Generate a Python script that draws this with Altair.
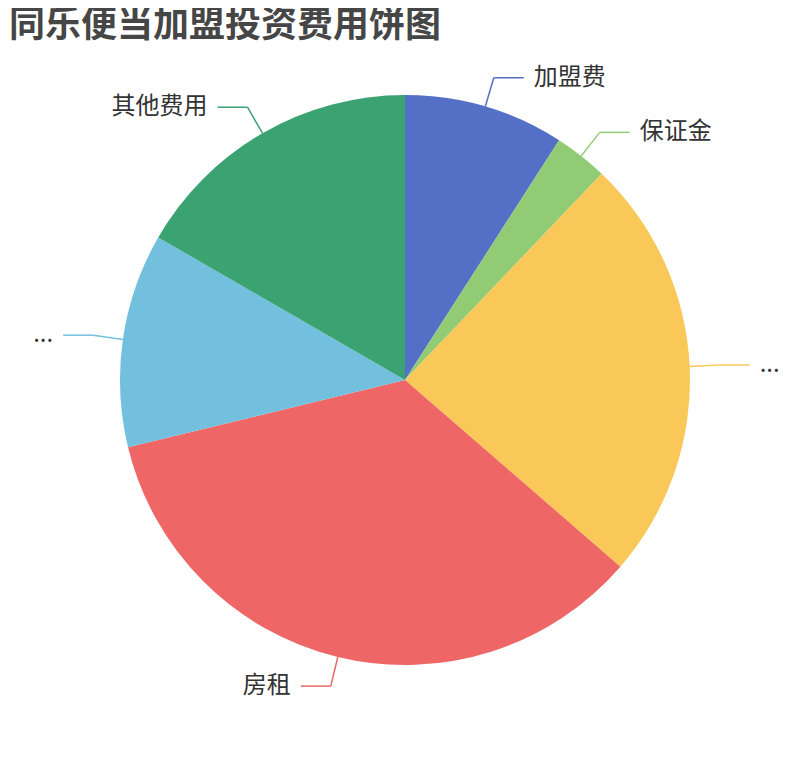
import altair as alt
import pandas as pd

title_text = "同乐便当加盟投资费用饼图"
names = ["加盟费", "保证金", "装修费用", "房租", "设备费用", "其他费用"]
labels = ["加盟费", "保证金", "...", "房租", "...", "其他费用"]
values = [3, 1, 8, 11.5, 4, 5.5]
colors = ["#5470c6", "#91cc75", "#fac858", "#ee6666", "#73c0de", "#3ba272"]

df = pd.DataFrame({"name": names, "label": labels, "value": values, "order": list(range(len(names)))})

W, H = 794, 744
R = 285
L1, L2, GAP = 30, 30, 10
FONT = "Noto Sans CJK SC"

color_enc = alt.Color("name:N", scale=alt.Scale(domain=names, range=colors), legend=None)
xs = alt.Scale(domain=[-W / 2, W / 2], nice=False, zero=False)
ys = alt.Scale(domain=[-H / 2, H / 2], nice=False, zero=False)

base = alt.Chart(df)

arc = base.mark_arc(outerRadius=R).encode(
    theta=alt.Theta("value:Q", stack=True),
    color=color_enc,
    order=alt.Order("order:Q"),
)

geo = (
    base.transform_window(cum="sum(value)", sort=[alt.SortField("order")], frame=[None, 0])
    .transform_joinaggregate(total="sum(value)")
    .transform_calculate(
        a="(datum.cum - datum.value/2)/datum.total*2*PI",
    )
    .transform_calculate(
        s="sin(datum.a)",
        c="cos(datum.a)",
    )
    .transform_calculate(
        x0=f"{R}*datum.s",
        y0=f"{R}*datum.c",
        x1=f"{R + L1}*datum.s",
        y1=f"{R + L1}*datum.c",
        side="datum.s >= 0 ? 1 : -1",
    )
    .transform_calculate(
        x2=f"datum.x1 + {L2}*datum.side",
    )
    .transform_calculate(
        xt=f"datum.x2 + {GAP}*datum.side",
    )
)

seg1 = geo.mark_rule(strokeWidth=1.5).encode(
    x=alt.X("x0:Q", scale=xs, axis=None),
    y=alt.Y("y0:Q", scale=ys, axis=None),
    x2="x1:Q",
    y2="y1:Q",
    color=color_enc,
)
seg2 = geo.mark_rule(strokeWidth=1.5).encode(
    x=alt.X("x1:Q", scale=xs, axis=None),
    y=alt.Y("y1:Q", scale=ys, axis=None),
    x2="x2:Q",
    color=color_enc,
)

txt_right = geo.transform_filter("datum.side > 0").mark_text(
    align="left", baseline="middle", fontSize=24, font=FONT, color="#333333"
).encode(
    x=alt.X("xt:Q", scale=xs, axis=None),
    y=alt.Y("y1:Q", scale=ys, axis=None),
    text="label:N",
)
txt_left = geo.transform_filter("datum.side < 0").mark_text(
    align="right", baseline="middle", fontSize=24, font=FONT, color="#333333"
).encode(
    x=alt.X("xt:Q", scale=xs, axis=None),
    y=alt.Y("y1:Q", scale=ys, axis=None),
    text="label:N",
)

title = alt.Chart(alt.Data(values=[{"t": title_text}])).mark_text(
    align="left", baseline="middle", fontSize=36, fontWeight="bold", font=FONT, color="#464646"
).encode(x=alt.value(1), y=alt.value(18), text="t:N")

chart = alt.layer(arc, seg1, seg2, txt_right, txt_left, title).properties(
    width=W, height=H, autosize=alt.AutoSizeParams(type="none"), padding=0
).configure_view(stroke=None)

chart.save("out.html", embed_options={"renderer": "svg", "actions": False})
